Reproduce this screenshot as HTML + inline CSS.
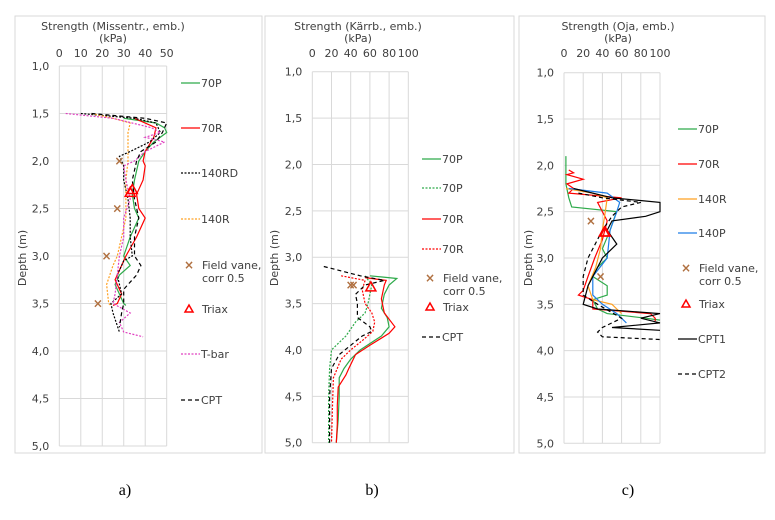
<!DOCTYPE html>
<html><head><meta charset="utf-8"><style>
body{margin:0;background:#fff;width:775px;height:515px;overflow:hidden}
svg{font-family:"DejaVu Sans","Liberation Sans",sans-serif}
</style></head><body>
<svg id="fig" width="775" height="515" viewBox="0 0 775 515" xmlns="http://www.w3.org/2000/svg"></svg>
<script>
// ---- Panel a data (x: kPa, depth: m)
const aTicksX=[0,10,20,30,40,50];
const depthTicks=["1,0","1,5","2,0","2,5","3,0","3,5","4,0","4,5","5,0"];
const a70P_d=[1.55,1.6,1.65,1.7,1.8,1.9,2.0,2.2,2.35,2.5,2.6,2.8,3.0,3.1,3.2,3.3,3.4,3.5,3.52];
const a70P_v=[30,45,49,50,44,40,37,35,34,35,37,33,30,33,28,26,28,30,31];
const a70R_d=[1.55,1.65,1.75,1.9,2.0,2.05,2.2,2.35,2.5,2.6,2.8,3.0,3.1,3.25,3.4,3.5,3.52];
const a70R_v=[35,45,44,40,39,40,39,36,37,40,36,31,29,26,29,27,25];
const a140RD_d=[1.5,1.55,1.6,1.7,1.8,1.9,1.95,2.05,2.2,2.4,2.6,2.8,3.0,3.05,3.2,3.4,3.5,3.6,3.8];
const a140RD_v=[10,35,45,47,42,33,28,30,30,32,33,33,34,30,27,29,24,25,28];
const a140R_d=[1.5,1.55,1.6,1.7,1.8,2.0,2.2,2.4,2.6,2.8,3.0,3.1,3.3,3.5,3.52];
const a140R_v=[15,25,33,32,32,32,31,31,31,29,27,25,22,23,24];
const aTbar_d=[1.5,1.55,1.65,1.7,1.75,1.8,1.9,2.0,2.05,2.2,2.4,2.6,2.8,3.0,3.2,3.4,3.5,3.6,3.7,3.8,3.85];
const aTbar_v=[3,25,43,47,40,49,40,35,30,31,33,30,30,28,27,26,25,33,28,30,39];
const aCPT_d=[1.5,1.55,1.6,1.7,1.8,1.9,2.0,2.2,2.4,2.6,2.8,3.0,3.1,3.2,3.35,3.5,3.6,3.75];
const aCPT_v=[15,40,50,48,45,38,36,34,35,37,35,35,38,36,30,30,29,28];
const aFV_d=[2.0,2.5,3.0,3.5], aFV_v=[28,27,22,18];
const aTx_d=[2.3,2.33], aTx_v=[34,33];
// ---- Panel b data
const bTicksX=[0,20,40,60,80,100];
const b70P_d=[3.2,3.23,3.3,3.4,3.55,3.65,3.75,3.85,4.0,4.1,4.2,4.3,4.5,4.75,5.0];
const b70P_v=[60,88,80,75,72,78,80,72,50,40,33,28,28,27,25];
const b70Pd_d=[3.2,3.3,3.5,3.6,3.7,3.85,4.0,4.2,4.5,4.75,5.0];
const b70Pd_v=[55,62,58,55,45,35,20,18,17,17,17];
const b70R_d=[3.22,3.25,3.3,3.45,3.6,3.75,3.82,3.95,4.05,4.2,4.27,4.4,4.6,4.8,5.0];
const b70R_v=[55,77,75,72,75,86,80,60,45,38,35,27,26,26,25];
const b70Rd_d=[3.2,3.25,3.35,3.5,3.6,3.7,3.8,3.9,4.0,4.1,4.3,4.6,5.0];
const b70Rd_v=[30,55,52,55,62,65,63,52,40,30,22,21,20];
const bCPT_d=[3.1,3.2,3.25,3.3,3.4,3.5,3.65,3.75,3.8,3.85,3.95,4.05,4.2,4.5,5.0];
const bCPT_v=[12,50,75,55,45,47,47,60,62,52,40,28,20,18,18];
const bFV_d=[3.3,3.3], bFV_v=[40,43];
const bTx_d=[3.32], bTx_v=[61];
// ---- Panel c data
const cTicksX=[0,20,40,60,80,100];
const c70P_d=[1.9,2.2,2.35,2.45,2.5,2.55,2.7,2.9,3.0,3.05,3.1,3.2,3.3,3.4,3.45,3.55,3.6,3.65,3.67];
const c70P_v=[2,2,5,8,55,53,48,40,45,40,35,30,45,45,30,35,45,85,100];
const c70R_d=[2.05,2.08,2.1,2.15,2.2,2.25,2.3,2.35,2.4,2.6,2.8,3.0,3.2,3.35,3.4,3.45,3.55,3.6,3.65,3.68];
const c70R_v=[5,10,3,20,3,10,5,60,35,45,40,32,25,20,15,30,30,90,95,95];
const c140R_d=[2.25,2.3,2.35,2.5,2.7,2.9,3.1,3.3,3.45,3.5,3.55,3.6];
const c140R_v=[2,30,45,43,40,38,33,25,30,50,55,60];
const c140P_d=[2.25,2.3,2.4,2.5,2.7,3.0,3.2,3.4,3.5,3.6,3.7];
const c140P_v=[5,45,58,55,48,45,30,30,40,55,65];
const cCPT1_d=[2.25,2.35,2.4,2.5,2.55,2.6,2.7,2.85,3.0,3.3,3.5,3.55,3.6,3.65,3.7,3.75,3.78];
const cCPT1_v=[10,50,100,100,85,50,45,55,40,25,20,35,100,80,100,50,100];
const cCPT2_d=[2.3,2.35,2.4,2.45,2.55,2.7,3.0,3.2,3.4,3.5,3.65,3.75,3.8,3.85,3.88];
const cCPT2_v=[15,40,80,60,50,40,25,20,20,35,60,40,35,40,100];
const cFV_d=[2.6,3.2], cFV_v=[28,38];
const cTx_d=[2.72,2.72], cTx_v=[42,43];

const NS="http://www.w3.org/2000/svg";
const svg=document.getElementById('fig');
function mk(tag,attrs,parent,text){const e=document.createElementNS(NS,tag);for(const k in attrs)e.setAttribute(k,attrs[k]);if(text!==undefined)e.textContent=text;(parent||svg).appendChild(e);return e;}
const GREEN="#2eaa4a",RED="#ff0000",ORANGE="#ffa020",BLUE="#1e7de6",MAG="#e040c0",BLK="#000",BRN="#b07040";
const SOLID="",DOT="2,1.5",DASH="4,3";
const FS=11;

function panel(P){
  const g=mk('g',{});
  
  
  const fr=mk('rect',{x:P.fx,y:16,width:P.fw,height:437,fill:'#fff',stroke:'#d9d9d9','stroke-width':1},g);
  
  const sx=v=>P.x0+(v-P.xmin)/(P.xmax-P.xmin)*(P.x1-P.x0);
  const sy=d=>P.y0+(d-1)/4*(P.y1-P.y0);
  P.ticks.forEach(t=>{const l=mk('line',{x1:sx(t),x2:sx(t),y1:P.y0,y2:P.y1,stroke:'#d9d9d9'},g);
    const tx=mk('text',{x:sx(t),y:57,'font-size':FS,'text-anchor':'middle',fill:'#404040'},g,String(t));});
  depthTicks.forEach((s,i)=>{const d=1+i*0.5;const l=mk('line',{x1:P.x0,x2:P.x1,y1:sy(d),y2:sy(d),stroke:'#d9d9d9'},g);
    const tx=mk('text',{x:P.x0-10,y:sy(d)+4,'font-size':FS,'text-anchor':'end',fill:'#404040'},g,s);});
  const t1=mk('text',{x:P.tx,y:30,'font-size':FS,'text-anchor':'middle',fill:'#404040'},g,P.title);
  const t2=mk('text',{x:P.tx,y:42,'font-size':FS,'text-anchor':'middle',fill:'#404040'},g,'(kPa)');
  const yt=mk('text',{x:0,y:0,'font-size':FS,'text-anchor':'middle',fill:'#404040',transform:`translate(${P.ytx},258) rotate(-90)`},g,'Depth (m)');
  P.series.forEach(s=>{
    const pts=s.d.map((d,i)=>sx(s.v[i]).toFixed(1)+','+sy(d).toFixed(1)).join(' ');
    const pl=mk('polyline',{points:pts,fill:'none',stroke:s.c,'stroke-width':1.2,'stroke-dasharray':s.dash},g);
    
  });
  P.fv.d.forEach((d,i)=>{const m=mk('text',{x:sx(P.fv.v[i]),y:sy(d)+4,'font-size':12,'text-anchor':'middle',fill:BRN,'font-weight':'bold'},g,'×');});
  P.tx_.d.forEach((d,i)=>{const x=sx(P.tx_.v[i]),y=sy(d);const m=mk('polygon',{points:`${x},${y-5} ${x-5},${y+4} ${x+5},${y+4}`,fill:'none',stroke:RED,'stroke-width':1.5},g);});
  P.legend.forEach(L=>{
    const lg=mk('g',{},g);
    if(L.type==='line'){mk('line',{x1:P.lx,x2:P.lx+19,y1:L.y,y2:L.y,stroke:L.c,'stroke-width':1.3,'stroke-dasharray':L.dash},lg);
      mk('text',{x:P.lx+20,y:L.y+4,'font-size':FS,fill:'#404040'},lg,L.t);}
    else if(L.type==='fv'){mk('text',{x:P.lx+8,y:L.y+4,'font-size':12,'text-anchor':'middle',fill:BRN,'font-weight':'bold'},lg,'×');
      mk('text',{x:P.lx+21,y:L.y+4,'font-size':FS,fill:'#404040'},lg,'Field vane,');mk('text',{x:P.lx+21,y:L.y+17,'font-size':FS,fill:'#404040'},lg,'corr 0.5');}
    else {const x=P.lx+8,y=L.y;mk('polygon',{points:`${x},${y-4} ${x-4},${y+3} ${x+4},${y+3}`,fill:'none',stroke:RED,'stroke-width':1.5},lg);
      mk('text',{x:P.lx+21,y:L.y+4,'font-size':FS,fill:'#404040'},lg,'Triax');}
  });
  const cap=mk('text',{x:P.cap,y:495,'font-size':16,'text-anchor':'middle',fill:'#000','font-family':'Liberation Serif,serif'},svg,P.capt);
  
}
panel({name:'panel-a',fx:15,fw:247,x0:59.3,x1:166.7,xmin:0,xmax:50,y0:66,y1:446,ticks:aTicksX,tx:113,ytx:26,title:'Strength (Missentr., emb.)',lx:181,cap:125,capt:'a)',
 series:[{n:'70P',d:a70P_d,v:a70P_v,c:GREEN,dash:SOLID},{n:'70R',d:a70R_d,v:a70R_v,c:RED,dash:SOLID},{n:'140RD',d:a140RD_d,v:a140RD_v,c:BLK,dash:DOT},{n:'140R',d:a140R_d,v:a140R_v,c:ORANGE,dash:DOT},{n:'T-bar',d:aTbar_d,v:aTbar_v,c:MAG,dash:DOT},{n:'CPT',d:aCPT_d,v:aCPT_v,c:BLK,dash:DASH}],
 fv:{d:aFV_d,v:aFV_v},tx_:{d:aTx_d,v:aTx_v},
 legend:[{type:'line',y:83,c:GREEN,dash:SOLID,t:'70P'},{type:'line',y:128,c:RED,dash:SOLID,t:'70R'},{type:'line',y:173,c:BLK,dash:DOT,t:'140RD'},{type:'line',y:219,c:ORANGE,dash:DOT,t:'140R'},{type:'fv',y:265},{type:'tx',y:309},{type:'line',y:354,c:MAG,dash:DOT,t:'T-bar'},{type:'line',y:400,c:BLK,dash:DASH,t:'CPT'}]});
panel({name:'panel-b',fx:265,fw:249,x0:312.3,x1:408.3,xmin:0,xmax:100,y0:71.7,y1:442.7,ticks:bTicksX,tx:358,ytx:278,title:'Strength (Kärrb., emb.)',lx:422,cap:372,capt:'b)',
 series:[{n:'70P',d:b70P_d,v:b70P_v,c:GREEN,dash:SOLID},{n:'70P-dashed',d:b70Pd_d,v:b70Pd_v,c:GREEN,dash:DOT},{n:'70R',d:b70R_d,v:b70R_v,c:RED,dash:SOLID},{n:'70R-dashed',d:b70Rd_d,v:b70Rd_v,c:RED,dash:DOT},{n:'CPT',d:bCPT_d,v:bCPT_v,c:BLK,dash:DASH}],
 fv:{d:bFV_d,v:bFV_v},tx_:{d:bTx_d,v:bTx_v},
 legend:[{type:'line',y:159,c:GREEN,dash:SOLID,t:'70P'},{type:'line',y:188,c:GREEN,dash:DOT,t:'70P'},{type:'line',y:219,c:RED,dash:SOLID,t:'70R'},{type:'line',y:249,c:RED,dash:DOT,t:'70R'},{type:'fv',y:278},{type:'tx',y:307},{type:'line',y:337,c:BLK,dash:DASH,t:'CPT'}]});
panel({name:'panel-c',fx:519,fw:246,x0:564,x1:660,xmin:0,xmax:100,y0:72.7,y1:443.3,ticks:cTicksX,tx:618,ytx:532,title:'Strength (Oja, emb.)',lx:678,cap:628,capt:'c)',
 series:[{n:'70P',d:c70P_d,v:c70P_v,c:GREEN,dash:SOLID},{n:'70R',d:c70R_d,v:c70R_v,c:RED,dash:SOLID},{n:'140R',d:c140R_d,v:c140R_v,c:ORANGE,dash:SOLID},{n:'140P',d:c140P_d,v:c140P_v,c:BLUE,dash:SOLID},{n:'CPT1',d:cCPT1_d,v:cCPT1_v,c:BLK,dash:SOLID},{n:'CPT2',d:cCPT2_d,v:cCPT2_v,c:BLK,dash:DASH}],
 fv:{d:cFV_d,v:cFV_v},tx_:{d:cTx_d,v:cTx_v},
 legend:[{type:'line',y:129,c:GREEN,dash:SOLID,t:'70P'},{type:'line',y:164,c:RED,dash:SOLID,t:'70R'},{type:'line',y:199,c:ORANGE,dash:SOLID,t:'140R'},{type:'line',y:233,c:BLUE,dash:SOLID,t:'140P'},{type:'fv',y:268},{type:'tx',y:304},{type:'line',y:339,c:BLK,dash:SOLID,t:'CPT1'},{type:'line',y:374,c:BLK,dash:DASH,t:'CPT2'}]});
</script>
</body></html>
